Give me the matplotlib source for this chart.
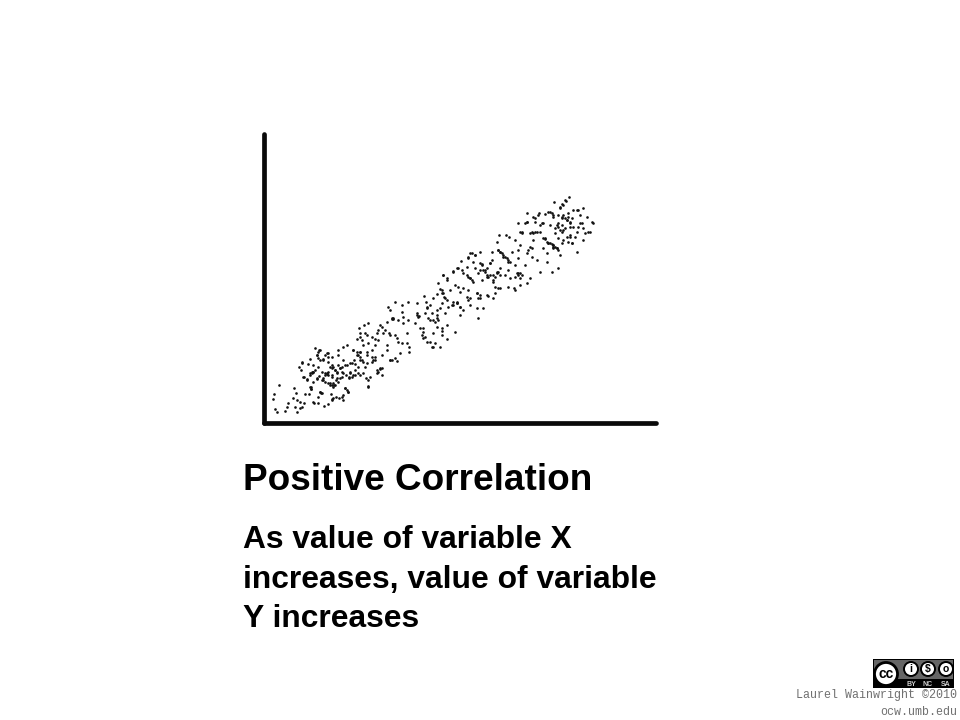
import matplotlib
matplotlib.use('Agg')
import matplotlib.pyplot as plt
from matplotlib.patches import Circle, Rectangle
import numpy as np

plt.rcParams['font.family'] = ['Liberation Sans', 'DejaVu Sans']

# points, lower left part of the cloud
low_x = [42, 40, 57, 44, 52, 75, 80, 84, 103, 107, 100, 110, 120, 133, 125, 120, 112, 105, 135, 148,
         152, 153, 161, 175, 193, 203, 215, 228, 237, 248, 250, 263, 255, 180, 175, 185, 212, 160, 140, 133,
         150, 155, 170, 178, 190, 200, 210, 222, 235, 225, 240, 215, 205, 195, 203, 178, 165, 170, 150, 125,
         118, 122, 145, 160, 175, 190, 215, 235, 235, 262, 280, 300, 290, 283, 300, 310, 320, 295, 285, 270,
         255, 245, 268, 280, 300, 318, 330, 325, 350, 360, 365, 340, 345, 335, 320, 310, 305, 290, 300, 298,
         313, 325, 322, 335, 350, 360, 380, 395, 415, 428, 445, 465, 470, 475, 495, 510, 530, 525, 545, 560,
         585, 520, 490, 485, 500, 515, 525, 540, 560, 545, 440, 448, 448, 420, 405, 390, 410, 380, 390, 412,
         425, 368, 355, 325, 345, 365, 385, 390, 405, 425, 445, 470, 500, 530, 545, 575, 590, 400, 425, 380,
         335, 250, 230, 215, 205, 195, 185, 240, 228, 215, 220, 160, 175, 258, 270]
low_y = [283, 296, 255, 327, 337, 333, 320, 310, 264, 278, 295, 300, 305, 310, 320, 323, 337, 320, 283, 282,
         262, 268, 308, 310, 318, 313, 297, 290, 295, 300, 285, 275, 265, 275, 290, 280, 283, 245, 237, 232,
         225, 215, 238, 228, 240, 222, 250, 255, 245, 210, 205, 195, 185, 165, 160, 150, 145, 165, 178, 187,
         200, 210, 193, 195, 175, 178, 170, 150, 165, 135, 150, 155, 165, 180, 180, 185, 190, 200, 210, 190,
         195, 215, 235, 225, 225, 235, 230, 258, 210, 205, 225, 180, 170, 150, 155, 135, 120, 118, 100, 85,
         75, 70, 105, 110, 100, 75, 65, 55, 60, 50, 60, 70, 40, 50, 40, 60, 55, 65, 85, 75,
         95, 100, 85, 105, 125, 140, 130, 140, 118, 105, 130, 140, 155, 160, 175, 180, 183, 135, 105, 115,
         128, 98, 120, 130, 135, 165, 20, 30, 5, 15, 5, 10, 20, 30, 10, 15, 5, 55, 35, 150,
         170, 140, 220, 230, 225, 220, 215, 235, 240, 255, 260, 215, 200, 225, 215]

# upper right part of the cloud
up_x = [12, 18, 30, 40, 50, 55, 60, 65, 72, 80, 20, 35, 50, 60, 75, 85, 100, 110, 120, 130,
        120, 145, 150, 170, 180, 190, 175, 90, 105, 115, 130, 145, 70, 80, 100, 115, 122, 145, 150, 165,
        180, 160, 140, 165, 185, 195, 175, 150, 140, 185, 200, 210, 215, 235, 240, 250, 265, 275, 295, 300,
        285, 268, 238, 258, 232, 295, 285, 265, 240, 230, 210, 220, 240, 225, 205, 175, 283, 300, 320, 330,
        305, 295, 270, 255, 315, 335, 350, 340, 330, 305, 295, 320, 322, 345, 358, 375, 365, 385, 400, 415,
        430, 445, 460, 475, 490, 500, 518, 510, 495, 490, 470, 455, 440, 425, 405, 390, 360, 375, 385, 400,
        420, 380, 370, 360, 395, 415, 380, 350, 402, 420, 435, 448, 430, 450, 440, 425, 460, 470, 415, 405,
        450, 480, 400, 410]
up_y = [318, 335, 345, 325, 312, 280, 298, 310, 322, 330, 355, 368, 375, 355, 370, 350, 345, 340, 350, 360,
        375, 330, 345, 310, 325, 355, 385, 300, 285, 290, 295, 300, 255, 265, 243, 235, 212, 205, 190, 195,
        185, 215, 230, 235, 222, 240, 250, 265, 255, 270, 260, 220, 185, 180, 185, 200, 215, 185, 180, 165,
        150, 140, 135, 135, 155, 205, 225, 240, 235, 245, 255, 270, 295, 310, 318, 325, 295, 285, 280, 265,
        255, 250, 265, 255, 225, 200, 210, 150, 130, 125, 100, 95, 70, 85, 70, 72, 100, 65, 80, 100,
        75, 70, 60, 60, 55, 80, 100, 125, 130, 150, 185, 160, 140, 125, 115, 105, 125, 145, 160, 170,
        195, 190, 175, 245, 245, 235, 215, 125, 35, 50, 30, 22, 45, 100, 90, 85, 110, 125, 145, 130,
        135, 100, 165, 175]

# dense clump near the lower left
clump_a_x = [75, 80, 85, 95, 100, 105, 110, 120, 125, 85, 90, 100, 105, 60, 62, 30, 32, 65, 70, 75,
             40, 45, 50, 55, 60, 80, 85, 160, 170, 180, 175, 180, 185, 155, 165, 150, 148, 155, 165, 175,
             190, 230, 235, 240, 245, 135, 140, 145, 270, 275, 90, 115, 130, 125, 110, 95, 50, 35, 20, 10,
             5, 215, 225, 200, 195, 205, 205, 125, 100, 95, 40, 30, 130, 140, 60, 70]
clump_a_y = [105, 100, 95, 85, 80, 90, 95, 85, 80, 130, 135, 130, 135, 155, 160, 140, 148, 120, 115, 125,
             95, 90, 45, 35, 30, 40, 50, 30, 35, 35, 45, 50, 60, 70, 72, 100, 110, 110, 105, 100,
             100, 100, 95, 88, 85, 145, 150, 155, 60, 60, 80, 75, 100, 110, 115, 105, 115, 100, 120, 110,
             70, 65, 60, 45, 80, 120, 140, 170, 175, 180, 185, 100, 60, 75, 60, 60]

# dense clump at the top right end
clump_b_x = [137, 125, 120, 115, 125, 110, 115, 125, 135, 140, 145, 150, 155, 130, 120, 135, 150, 90, 95, 100,
             80, 85, 90, 95, 100, 105, 100, 110, 115, 70, 75, 165, 150, 145, 155, 130, 125, 35, 40, 45,
             0, 5, 25, 30, 35, 20, 60, 70, 15, 20, 170, 180, 205, 190, 185, 175, 215, 45, 55, 40]
clump_b_y = [33, 42, 55, 75, 80, 105, 110, 105, 85, 90, 80, 95, 85, 120, 120, 115, 110, 65, 70, 75,
             155, 158, 160, 162, 165, 170, 175, 175, 180, 145, 148, 140, 140, 155, 160, 150, 160, 125, 130, 125,
             125, 128, 180, 170, 175, 190, 105, 100, 100, 95, 60, 75, 125, 115, 100, 110, 95, 95, 75, 80]

# dense clump in the middle
clump_c_x = [120, 125, 175, 180, 185, 190, 195, 200, 205, 210, 135, 140, 145, 160, 165, 170, 175, 180, 230, 235,
             240, 225, 240, 160, 165, 175, 85, 90, 95, 100, 120, 130, 140, 150, 155, 95, 105, 85, 65, 70,
             50, 40, 10, 20, 60, 80, 90, 110, 120, 140, 160, 205, 225, 5, 10, 15, 40, 50, 60, 110]
clump_c_y = [70, 75, 30, 35, 40, 45, 50, 55, 60, 65, 95, 105, 112, 105, 110, 100, 95, 105, 100, 105,
             100, 110, 115, 125, 140, 145, 110, 115, 120, 125, 90, 90, 85, 70, 60, 40, 45, 50, 90, 100,
             85, 95, 105, 120, 155, 170, 175, 160, 165, 165, 175, 140, 150, 150, 160, 175, 185, 190, 200, 205]

# thinner stretch between the lower clump and the middle, same reading as low_x
gap_x = [395, 400, 430, 440, 470, 478, 505, 520, 535, 480, 488, 495, 510, 520, 490, 530, 545, 388, 405, 415,
         375, 365, 300, 315, 345, 355]
gap_y = [57, 58, 70, 100, 45, 48, 55, 60, 60, 85, 95, 110, 125, 140, 115, 80, 92, 100, 105, 125,
         90, 80, 110, 100, 118, 90]

title = 'Positive Correlation'
body_lines = ['As value of variable X', 'increases, value of variable', 'Y increases']
credit = 'Laurel Wainwright ©2010'
site = 'ocw.umb.edu'

fig = plt.figure(figsize=(9.6, 7.2), dpi=100)

# chart itself, units are 1/3 of a pixel because that is how the crops were read
ax = fig.add_axes([264 / 960, (720 - 423) / 720, 392 / 960, 289 / 720])
ax.set_xlim(0, 1176)
ax.set_ylim(0, 867)
dot = dict(s=3.6, c='#111111', lw=0, clip_on=False)
ax.scatter(np.array(low_x) - 12, 369 - np.array(low_y), **dot)
ax.scatter(np.array(gap_x) - 12, 369 - np.array(gap_y), **dot)
ax.scatter(np.array(up_x) + 468, 699 - np.array(up_y), **dot)
ax.scatter(np.array(clump_a_x) + 108, 249 - np.array(clump_a_y), **dot)
ax.scatter(np.array(clump_b_x) + 768, 699 - np.array(clump_b_y), **dot)
ax.scatter(np.array(clump_c_x) + 528, 549 - np.array(clump_c_y), **dot)
ax.spines[['top', 'right']].set_visible(False)
for side in ['left', 'bottom']:
    ax.spines[side].set_linewidth(3.4)
    ax.spines[side].set_color('#0a0a0a')
    ax.spines[side].set_capstyle('round')
ax.set_xticks([])
ax.set_yticks([])

fig.text(243 / 960, 1 - 490 / 720, title, fontsize=26.6, fontweight='bold', color='black')
for line, y in zip(body_lines, [548, 588, 627]):
    fig.text(243 / 960, 1 - y / 720, line, fontsize=22.9, fontweight='bold', color='black')

# licence badge, drawn on a full figure overlay in pixel units
over = fig.add_axes([0, 0, 1, 1], zorder=5)
over.set_xlim(0, 960)
over.set_ylim(720, 0)
over.axis('off')
over.add_patch(Rectangle((873, 659), 81, 29, fc='black', ec='none'))
over.add_patch(Rectangle((874, 660), 79, 19, fc='#666666', ec='none'))
over.add_patch(Circle((886, 674), 11.5, fc='white', ec='black', lw=2))
over.text(886, 674.5, 'cc', fontsize=10, fontweight='bold', ha='center', va='center')
for cx, mark in zip([911, 928, 946], ['i', '$', 'o']):
    over.add_patch(Circle((cx, 669), 7, fc='white', ec='black', lw=1.4))
    over.text(cx, 669, mark, fontsize=7.5, fontweight='bold', ha='center', va='center')
for cx, tag in zip([911, 928, 946], ['BY', 'NC', 'SA']):
    over.text(cx, 684, tag, fontsize=5, fontweight='bold', color='#cccccc', ha='center', va='center')
over.text(957, 695, credit, fontsize=8.4, family='Liberation Mono', color='#707070', ha='right', va='center')
over.text(957, 712, site, fontsize=8.4, family='Liberation Mono', color='#707070', ha='right', va='center')

fig.savefig('out.png', dpi=100)
